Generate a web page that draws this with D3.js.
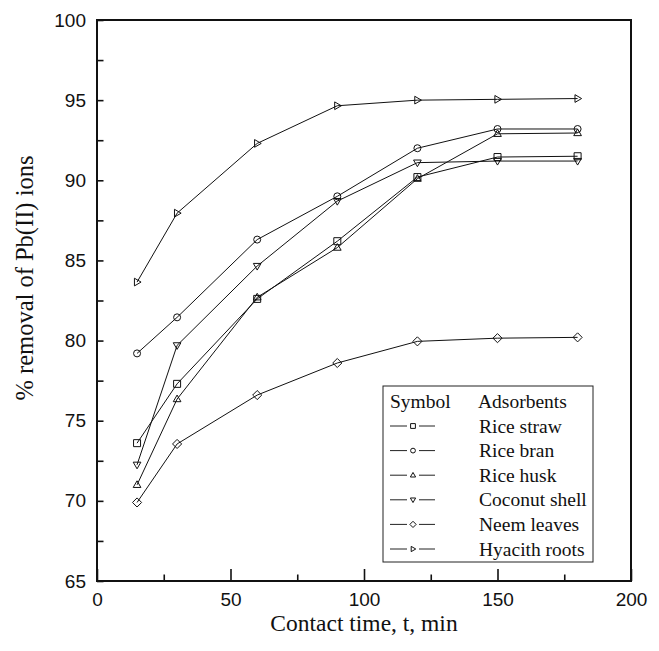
<!DOCTYPE html>
<html>
<head>
<meta charset="utf-8">
<script src="https://cdn.jsdelivr.net/npm/d3@7"></script>
<style>
  html, body { margin: 0; padding: 0; background: #fff; }
  svg { display: block; }
</style>
</head>
<body>
<div id="chart"></div>
<script>
// % removal of Pb(II) vs contact time for six adsorbents
const times = [15, 30, 60, 90, 120, 150, 180];
const riceStraw    = [73.6, 77.3, 82.6, 86.2, 90.2, 91.45, 91.5];
const riceBran     = [79.2, 81.45, 86.3, 89.0, 92.0, 93.2, 93.2];
const riceHusk     = [71.0, 76.35, 82.7, 85.8, 90.1, 92.9, 92.95];
const coconutShell = [72.25, 79.7, 84.65, 88.7, 91.1, 91.2, 91.2];
const neemLeaves   = [69.9, 73.55, 76.6, 78.6, 79.95, 80.15, 80.2];
const hyacithRoots = [83.65, 87.95, 92.3, 94.65, 95.0, 95.05, 95.1];

const seriesNames = ['Rice straw', 'Rice bran', 'Rice husk', 'Coconut shell', 'Neem leaves', 'Hyacith roots'];
const seriesValues = [riceStraw, riceBran, riceHusk, coconutShell, neemLeaves, hyacithRoots];
const seriesSymbols = ['square', 'circle', 'up', 'down', 'diamond', 'right'];

const xTicks = [0, 50, 100, 150, 200];
const yTicks = [65, 70, 75, 80, 85, 90, 95, 100];

(function(){
  const width = 659, height = 651;
  const margin = {top: 20, right: 28, bottom: 70, left: 97};
  const innerW = width - margin.left - margin.right;
  const innerH = height - margin.top - margin.bottom;

  const svg = d3.select('#chart').append('svg')
    .attr('width', width)
    .attr('height', height);

  const g = svg.append('g')
    .attr('transform', `translate(${margin.left},${margin.top})`);

  const x = d3.scaleLinear().domain([0, 200]).range([0, innerW]);
  const y = d3.scaleLinear().domain([65, 100]).range([innerH, 0]);

  // marker path for a symbol type, centred at 0,0
  function symbolPath(type, r){
    switch(type){
      case 'square': return `M${-r},${-r}H${r}V${r}H${-r}Z`;
      case 'circle': return d3.symbol(d3.symbolCircle, Math.PI * r * r)();
      case 'up': return `M0,${-r*1.15}L${r*1.1},${r*0.75}L${-r*1.1},${r*0.75}Z`;
      case 'down': return `M0,${r*1.15}L${r*1.1},${-r*0.75}L${-r*1.1},${-r*0.75}Z`;
      case 'right': return `M${r*1.15},0L${-r*0.75},${r*1.1}L${-r*0.75},${-r*1.1}Z`;
      case 'diamond': return `M0,${-r*1.3}L${r*1.3},0L0,${r*1.3}L${-r*1.3},0Z`;
    }
  }

  // ticks (inward)
  const xAxis = d3.axisBottom(x).tickValues(xTicks).tickSize(-12).tickFormat(d3.format('d'));
  const xMinor = d3.axisBottom(x).tickValues(d3.range(25, 200, 50)).tickSize(-6.5).tickFormat('');
  const yAxis = d3.axisLeft(y).tickValues(yTicks).tickSize(-6.5).tickFormat(d3.format('d'));
  const yMinor = d3.axisLeft(y).tickValues(d3.range(67.5, 100, 5)).tickSize(-6.5).tickFormat('');

  function styleAxis(sel){
    sel.select('.domain').remove();
    sel.selectAll('.tick line').attr('stroke', '#111').attr('stroke-width', 1.6);
    sel.selectAll('.tick text')
      .attr('fill', '#111')
      .style('font-family', '"Liberation Sans", Arial, sans-serif')
      .style('font-size', '19px');
  }

  g.append('g').attr('transform', `translate(0,${innerH})`).call(xAxis).call(styleAxis)
    .selectAll('.tick text').attr('y', 12);
  g.append('g').attr('transform', `translate(0,${innerH})`).call(xMinor).call(styleAxis);
  g.append('g').call(yAxis).call(styleAxis)
    .selectAll('.tick text').attr('x', -11);
  g.append('g').call(yMinor).call(styleAxis);

  // frame
  g.append('rect')
    .attr('x', 0).attr('y', 0)
    .attr('width', innerW).attr('height', innerH)
    .attr('fill', 'none')
    .attr('stroke', '#111')
    .attr('stroke-width', 2);

  // series
  const line = d3.line()
    .x((d, i) => x(times[i]))
    .y(d => y(d));

  seriesValues.forEach((vals, k) => {
    g.append('path')
      .datum(vals)
      .attr('d', line)
      .attr('fill', 'none')
      .attr('stroke', '#111')
      .attr('stroke-width', 1);

    g.selectAll(null).data(vals).enter().append('path')
      .attr('transform', (d, i) => `translate(${x(times[i])},${y(d)})`)
      .attr('d', symbolPath(seriesSymbols[k], 3.5))
      .attr('fill', 'none')
      .attr('stroke', '#111')
      .attr('stroke-width', 1);
  });

  // axis titles
  const serif = '"Liberation Serif", "Times New Roman", serif';
  svg.append('text')
    .attr('x', margin.left + innerW / 2)
    .attr('y', 631)
    .attr('text-anchor', 'middle')
    .style('font-family', serif)
    .style('font-size', '23.5px')
    .attr('fill', '#111')
    .text('Contact time, t, min');

  svg.append('text')
    .attr('transform', 'translate(33,278) rotate(-90)')
    .attr('text-anchor', 'middle')
    .style('font-family', serif)
    .style('font-size', '24.5px')
    .attr('fill', '#111')
    .text('% removal of Pb(II) ions');

  // legend
  const lx = 383, ly = 386, lw = 210, lh = 176;
  const legend = svg.append('g');
  legend.append('rect')
    .attr('x', lx).attr('y', ly)
    .attr('width', lw).attr('height', lh)
    .attr('fill', '#fff')
    .attr('stroke', '#222')
    .attr('stroke-width', 1);

  legend.append('text')
    .attr('x', lx + 7).attr('y', ly + 22)
    .style('font-family', serif).style('font-size', '19.5px')
    .attr('fill', '#111')
    .text('Symbol');
  legend.append('text')
    .attr('x', lx + 95).attr('y', ly + 22)
    .style('font-family', serif).style('font-size', '19.5px')
    .attr('fill', '#111')
    .text('Adsorbents');

  seriesNames.forEach((name, k) => {
    const cy = ly + 40 + k * 24.6;
    const row = legend.append('g');
    row.append('line')
      .attr('x1', lx + 7).attr('x2', lx + 24)
      .attr('y1', cy).attr('y2', cy)
      .attr('stroke', '#222').attr('stroke-width', 1);
    row.append('line')
      .attr('x1', lx + 36).attr('x2', lx + 52)
      .attr('y1', cy).attr('y2', cy)
      .attr('stroke', '#222').attr('stroke-width', 1);
    row.append('path')
      .attr('transform', `translate(${lx + 30},${cy})`)
      .attr('d', symbolPath(seriesSymbols[k], 2.4))
      .attr('fill', 'none')
      .attr('stroke', '#111')
      .attr('stroke-width', 1);
    row.append('text')
      .attr('x', lx + 96).attr('y', cy + 6.5)
      .style('font-family', serif).style('font-size', '19.5px')
      .attr('fill', '#111')
      .text(name);
  });
})();
</script>
</body>
</html>
